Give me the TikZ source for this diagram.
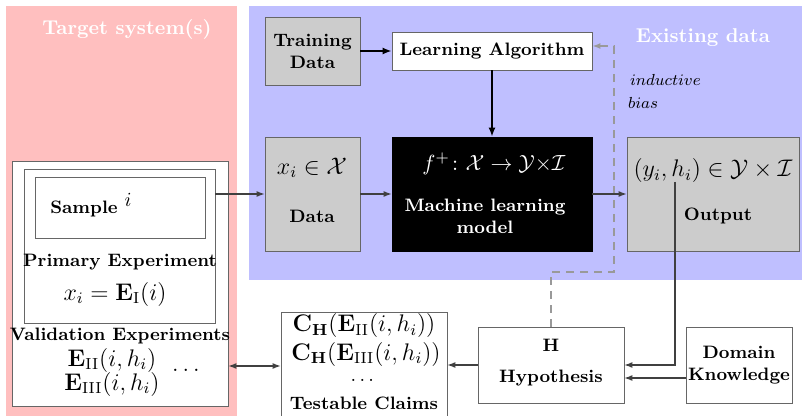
\documentclass[tikz,border=0pt]{standalone}
\usepackage{amsmath}
\usetikzlibrary{arrows.meta}

\definecolor{targetpink}{RGB}{255,191,191}
\definecolor{databluebg}{RGB}{191,191,255}

\tikzset{
  box/.style={draw=black!60, align=center, font=\small\bfseries, inner sep=1pt},
  graybox/.style={box, fill=black!20},
  whitebox/.style={box, fill=white},
  arr/.style={-{Latex[length=4pt,width=3pt]}, black!75, semithick},
  bigarr/.style={-{Latex[length=4.5pt,width=3.5pt]}, black, thick},
  biasline/.style={-{Latex[length=4pt,width=3pt]}, black!40, thick, dash pattern=on 4pt off 3pt},
  areatitle/.style={text=white, font=\normalsize\bfseries},
  boldtext/.style={font=\small\bfseries}
}

\begin{document}
\begin{tikzpicture}[x=0.5pt,y=-0.5pt]
\useasboundingbox (0,0) rectangle (802,416);

%background areas
\fill[targetpink] (6,6) rectangle (237,416);
\fill[databluebg] (249,6) rectangle (802,280);
\node[areatitle] (ttarget) at (127,29) {Target system(s)};
\node[areatitle] (texisting) at (703,38) {Existing data};

%existing data
\node[graybox, minimum width=47.5pt, minimum height=34pt] (train) at (312.5,51) {Training\\Data};
\node[whitebox, minimum width=100pt, minimum height=19pt] (learn) at (492,51) {Learning Algorithm};
\node[graybox, minimum width=47.5pt, minimum height=57pt] (data) at (312.5,194) {};
\node[draw=black, fill=black, minimum width=100pt, minimum height=57pt] (ml) at (492,194) {};
\node[graybox, minimum width=86pt, minimum height=57pt] (out) at (713,194) {};

\node[font=\large] (tdatax) at (312,168) {$x_i\in\mathcal{X}$};
\node[boldtext] (tdata) at (312,216) {Data};
\node[text=white, font=\fontsize{11}{13}\selectfont] (tmlf) at (494,164) {$f^{+}\colon\mathcal{X}\to\mathcal{Y}{\times}\mathcal{I}$};
\node[text=white, boldtext, align=center] (tml) at (485,216) {Machine learning\\model};
\node[font=\large] (toutx) at (713,171) {$(y_i,h_i)\in\mathcal{Y}\times\mathcal{I}$};
\node[boldtext] (tout) at (718,216) {Output};

%target system
\node[whitebox, minimum width=108pt, minimum height=122.5pt] (outer) at (120,283.5) {};
\node[whitebox, minimum width=95.5pt, minimum height=77pt] (prim) at (119.5,246) {};
\node[whitebox, minimum width=85pt, minimum height=30.5pt] (sample) at (120,207.5) {};
\node[boldtext] (tsample) at (84,209) {Sample};
\node (tsamplei) at (128,200) {$i$};
\node[boldtext] (tprim) at (120,262) {Primary Experiment};
\node[font=\large] (tprimx) at (115,294) {$x_i=\mathbf{E}_{\mathrm{I}}(i)$};
\node[boldtext] (tvalid) at (120,336) {Validation Experiments};
\node[font=\large, align=center, inner sep=0pt] (tvalidx) at (112,372) {$\mathbf{E}_{\mathrm{II}}(i,h_i)$\\[-2pt]$\mathbf{E}_{\mathrm{III}}(i,h_i)$};
\node[font=\large] (tvaliddots) at (188,370) {$\dots$};

%claims and hypothesis
\node[whitebox, minimum width=83pt, minimum height=54pt] (claims) at (364,366) {};
\node[font=\large] (tclaim1) at (364,326) {$\mathbf{C}_{\mathbf{H}}(\mathbf{E}_{\mathrm{II}}(i,h_i))$};
\node[font=\large] (tclaim2) at (366,354) {$\mathbf{C}_{\mathbf{H}}(\mathbf{E}_{\mathrm{III}}(i,h_i))$};
\node (tclaimdots) at (364,380) {$\dots$};
\node[boldtext] (tclaims) at (364,403) {Testable Claims};
\node[whitebox, minimum width=73pt, minimum height=38pt] (hyp) at (551,365) {};
\node[boldtext] (thyp) at (551,345) {H};
\node[boldtext] (thyp2) at (551,378) {Hypothesis};
\node[whitebox, minimum width=53pt, minimum height=38pt] (dom) at (739,365) {Domain\\Knowledge};

%inductive bias
\coordinate (biasA) at (614,272);
\coordinate (biasB) at (614,46);
\draw[biasline] (hyp.north) |- (biasA) -- (biasB) -- (learn.east |- biasB);
\node[anchor=west, font=\footnotesize] (tind) at (623,80) {$inductive$};
\node[anchor=west, font=\footnotesize] (tbias) at (621,103) {$bias$};

%connectors
\draw[bigarr] (train) -- (learn);
\draw[bigarr] (learn) -- (ml);
\draw[arr] (prim.east |- data.west) -- (data.west);
\draw[arr] (data) -- (ml);
\draw[arr] (ml) -- (out);
\coordinate (outtap) at (675,182);
\draw[arr] (outtap) |- (hyp.east);
\draw[arr] ([yshift=-6.5pt]dom.west) -- ([yshift=-6.5pt]hyp.east);
\draw[arr] (hyp.west) -- (claims.east |- hyp.west);
\draw[arr, {Latex[length=4pt,width=3pt]}-{Latex[length=4pt,width=3pt]}] (outer.east |- claims.west) -- (claims.west);

\end{tikzpicture}
\end{document}
